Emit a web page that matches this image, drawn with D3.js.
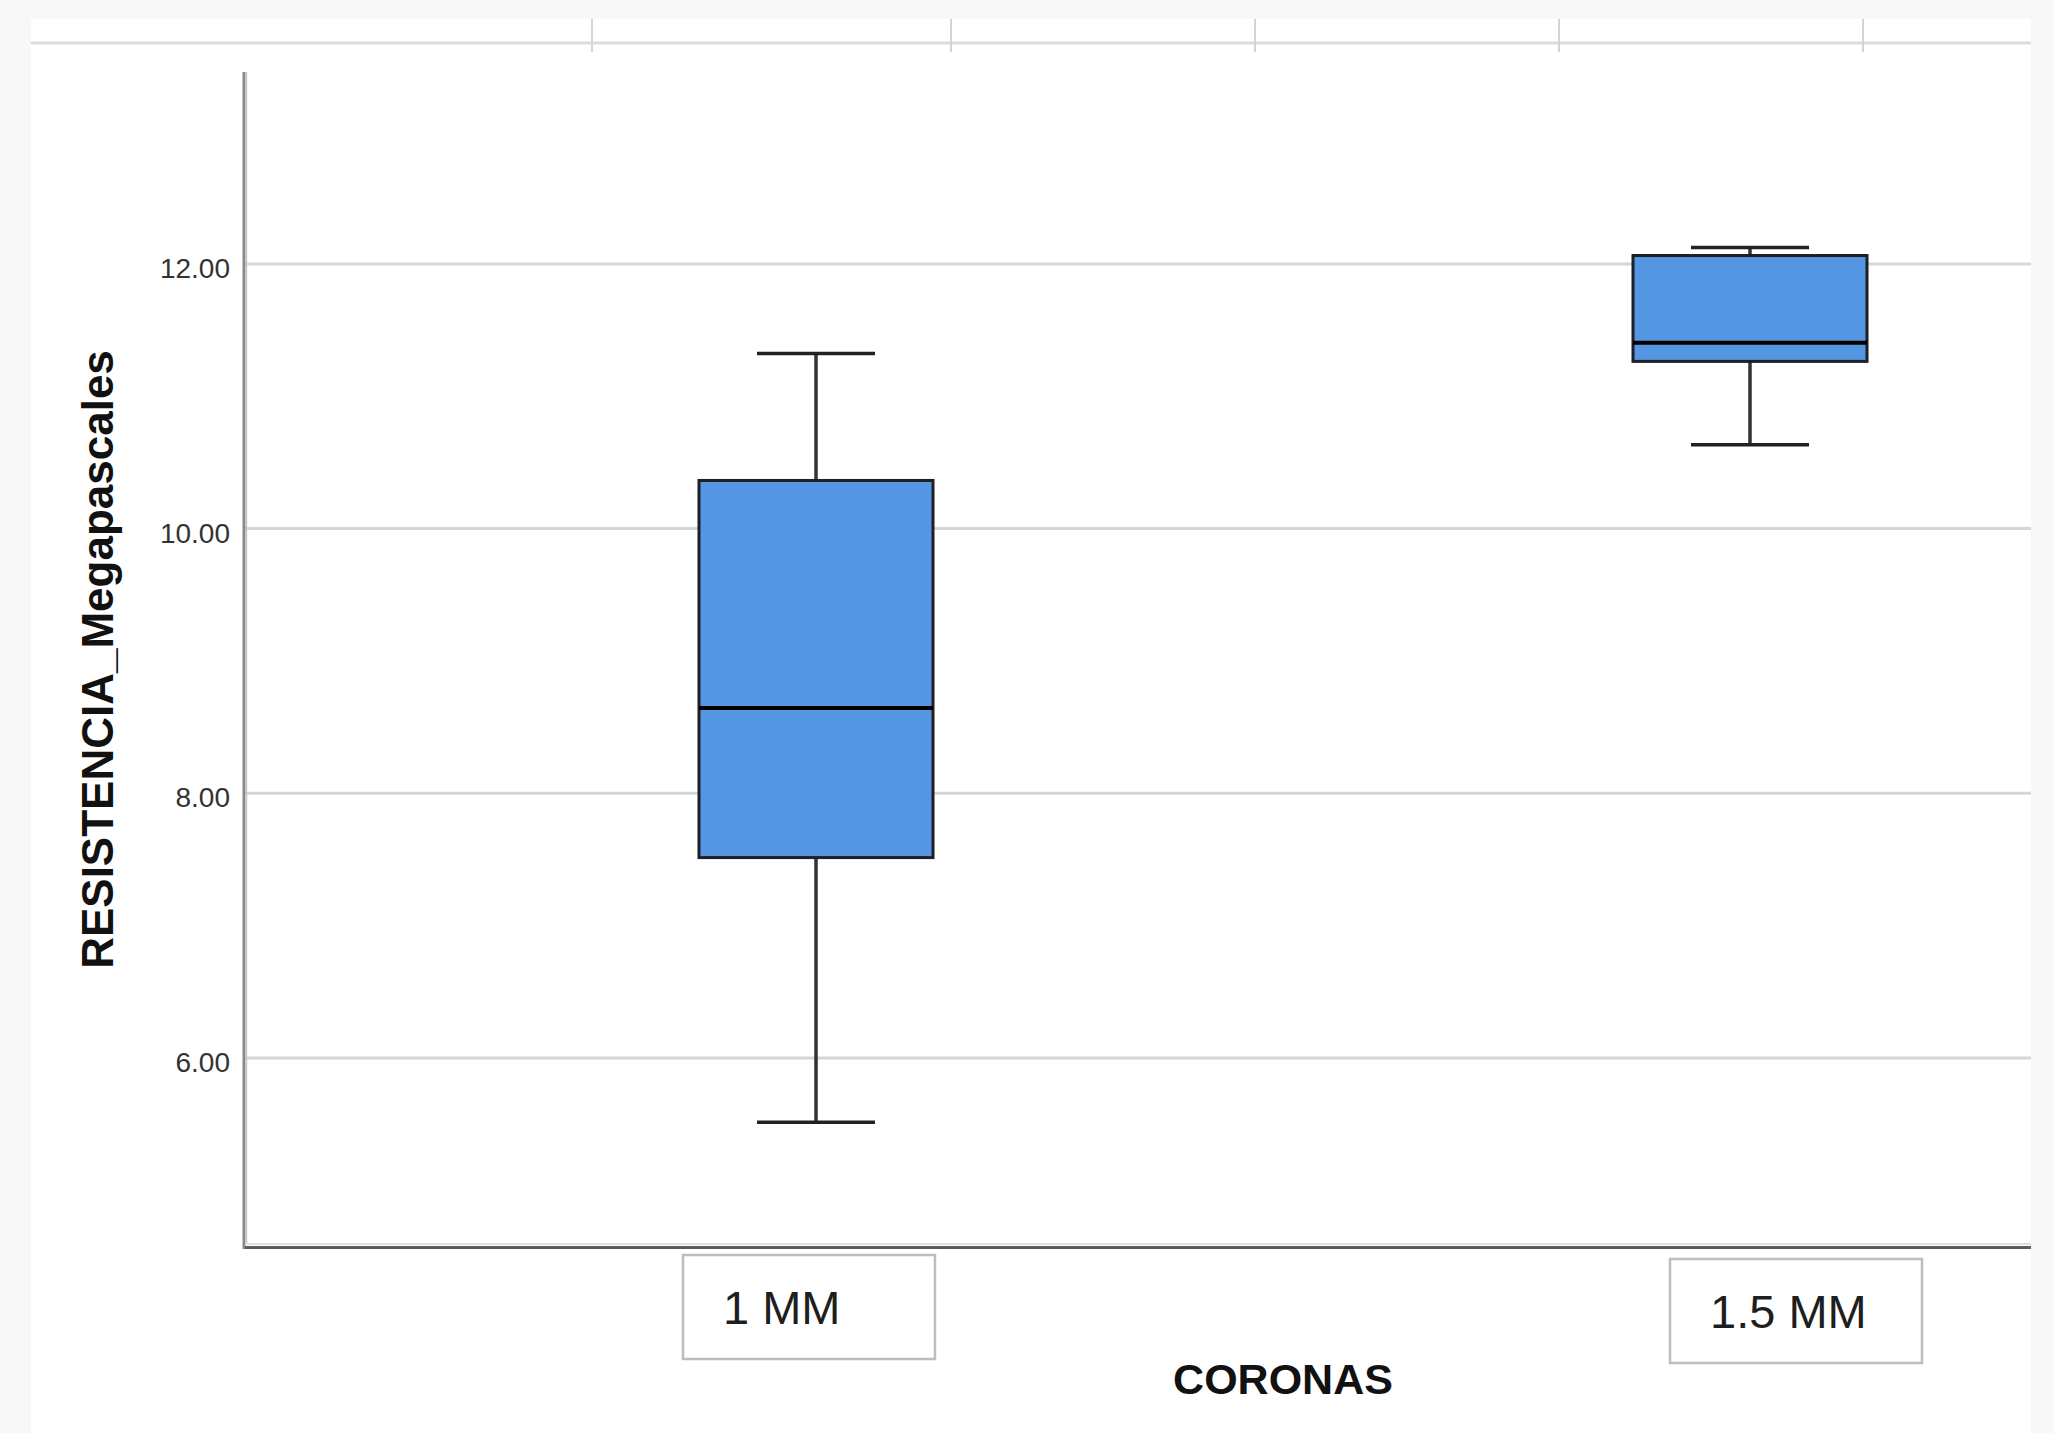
<!DOCTYPE html>
<html>
<head>
<meta charset="utf-8">
<script src="https://cdn.jsdelivr.net/npm/d3@7"></script>
<style>
  html, body { margin: 0; padding: 0; background: #f8f8f8; }
  svg { display: block; }
  text { font-family: "Liberation Sans", Arial, sans-serif; }
</style>
</head>
<body>
<div id="chart"></div>
<script>
// data
const categories = ["1 MM", "1.5 MM"];
const lowerWhisker = [5.51, 10.63];
const q1 = [7.51, 11.26];
const median = [8.64, 11.40];
const q3 = [10.36, 12.06];
const upperWhisker = [11.32, 12.12];
const yTicks = [6, 8, 10, 12];
const topTicks = [592, 951, 1255, 1559, 1863]; // decorative marks on the cropped strip above

const W = 2054, H = 1433;
const plotLeft = 245, plotRight = 2031, plotTop = 72, plotBottom = 1247;

const svg = d3.select("#chart")
  .append("svg")
    .attr("width", W)
    .attr("height", H)

// white card
svg.append("rect")
  .attr("x", 31).attr("y", 19)
  .attr("width", plotRight - 31).attr("height", H - 19)
  .attr("fill", "#ffffff")

// strip of a cropped chart above
svg.append("line")
  .attr("x1", 31).attr("x2", plotRight)
  .attr("y1", 43).attr("y2", 43)
  .attr("stroke", "#dcdcdc").attr("stroke-width", 3)
svg.selectAll(".topTick")
  .data(topTicks)
  .enter().append("line")
    .attr("x1", d => d).attr("x2", d => d)
    .attr("y1", 19).attr("y2", 52)
    .attr("stroke", "#d4d4d4").attr("stroke-width", 2)

const y = d3.scaleLinear()
  .domain([4.567, 13.447])
  .range([plotBottom, plotTop])

const x = d3.scalePoint()
  .domain(categories)
  .range([816, 1750])

// y axis with gridlines
const yAxis = svg.append("g")
  .attr("transform", `translate(${plotLeft},0)`)
  .call(d3.axisLeft(y)
    .tickValues(yTicks)
    .tickFormat(d3.format(".2f"))
    .tickSize(-(plotRight - plotLeft))
    .tickPadding(15))
yAxis.select(".domain").remove()
yAxis.selectAll(".tick line")
  .attr("stroke", "#d6d6d6")
  .attr("stroke-width", 3)
yAxis.selectAll(".tick text")
  .attr("font-size", 28)
  .attr("fill", "#333")
  .attr("dy", "0.5em")

// axis lines
svg.append("line")
  .attr("x1", plotLeft - 1).attr("x2", plotLeft - 1)
  .attr("y1", plotTop).attr("y2", plotBottom + 2)
  .attr("stroke", "#8a8a8a").attr("stroke-width", 3)
svg.append("line")
  .attr("x1", plotLeft + 1.5).attr("x2", plotLeft + 1.5)
  .attr("y1", plotTop).attr("y2", plotBottom - 3)
  .attr("stroke", "#c8c8c8").attr("stroke-width", 1.5)
svg.append("line")
  .attr("x1", plotLeft).attr("x2", plotRight)
  .attr("y1", plotBottom - 3).attr("y2", plotBottom - 3)
  .attr("stroke", "#dedede").attr("stroke-width", 2)
svg.append("line")
  .attr("x1", plotLeft).attr("x2", plotRight)
  .attr("y1", plotBottom + 0.5).attr("y2", plotBottom + 0.5)
  .attr("stroke", "#5c5c5c").attr("stroke-width", 3)

// boxplots
const boxW = 234, capW = 118;
const boxes = categories.map((c, i) => ({
  cat: c, lo: lowerWhisker[i], q1: q1[i], med: median[i], q3: q3[i], hi: upperWhisker[i]
}))

const g = svg.selectAll(".box")
  .data(boxes)
  .enter().append("g")
    .attr("class", "box")

g.append("line")
  .attr("x1", d => x(d.cat)).attr("x2", d => x(d.cat))
  .attr("y1", d => y(d.hi)).attr("y2", d => y(d.q3))
  .attr("stroke", "#333").attr("stroke-width", 3.5)
g.append("line")
  .attr("x1", d => x(d.cat)).attr("x2", d => x(d.cat))
  .attr("y1", d => y(d.q1)).attr("y2", d => y(d.lo))
  .attr("stroke", "#333").attr("stroke-width", 3.5)
g.append("line")
  .attr("x1", d => x(d.cat) - capW / 2).attr("x2", d => x(d.cat) + capW / 2)
  .attr("y1", d => y(d.hi)).attr("y2", d => y(d.hi))
  .attr("stroke", "#222").attr("stroke-width", 3.5)
g.append("line")
  .attr("x1", d => x(d.cat) - capW / 2).attr("x2", d => x(d.cat) + capW / 2)
  .attr("y1", d => y(d.lo)).attr("y2", d => y(d.lo))
  .attr("stroke", "#222").attr("stroke-width", 3.5)
g.append("rect")
  .attr("x", d => x(d.cat) - boxW / 2)
  .attr("y", d => y(d.q3))
  .attr("width", boxW)
  .attr("height", d => y(d.q1) - y(d.q3))
  .attr("fill", "#5596e3")
  .attr("stroke", "#1c1f26").attr("stroke-width", 3)
g.append("line")
  .attr("x1", d => x(d.cat) - boxW / 2).attr("x2", d => x(d.cat) + boxW / 2)
  .attr("y1", d => y(d.med)).attr("y2", d => y(d.med))
  .attr("stroke", "#000").attr("stroke-width", 4)

// category labels in small framed boxes (pasted, slightly off-centre)
const labelShift = [-7, 46];
const lab = svg.selectAll(".catLabel")
  .data(categories)
  .enter().append("g")
    .attr("class", "catLabel")
    .attr("transform", (d, i) => `translate(${x(d) + labelShift[i] - 126},${plotBottom + 8 + i * 4})`)
lab.append("rect")
  .attr("width", 252).attr("height", 104)
  .attr("fill", "#fff")
  .attr("stroke", "#bdbdbd").attr("stroke-width", 2.5)
lab.append("text")
  .attr("x", 40).attr("y", 69)
  .attr("font-size", 47)
  .attr("fill", "#1e1e1e")
  .text(d => d)

// axis titles
svg.append("text")
  .attr("x", (x(categories[0]) + x(categories[1])) / 2)
  .attr("y", 1394)
  .attr("text-anchor", "middle")
  .attr("font-size", 43)
  .attr("font-weight", "bold")
  .attr("fill", "#111")
  .text("CORONAS")

svg.append("text")
  .attr("transform", `translate(113,${(plotTop + plotBottom) / 2}) rotate(-90)`)
  .attr("text-anchor", "middle")
  .attr("font-size", 44)
  .attr("font-weight", "bold")
  .attr("fill", "#111")
  .text("RESISTENCIA_Megapascales")
</script>
</body>
</html>
